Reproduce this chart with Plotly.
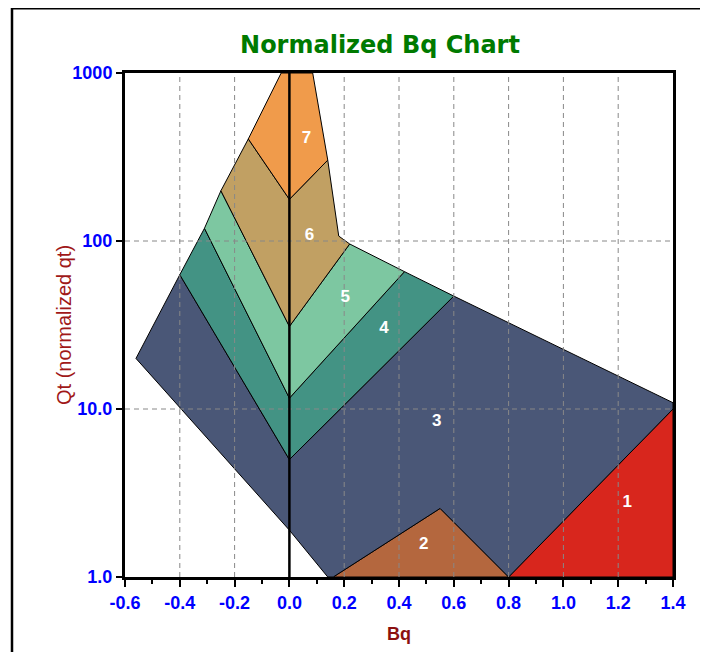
import plotly.graph_objects as go

# soil behaviour zones (Bq, Qt)
zone1_x = [0.80, 1.40, 1.40]
zone1_y = [1.0, 10.0, 1.0]

zone2_x = [0.16, 0.55, 0.80]
zone2_y = [1.0, 2.56, 1.0]

zone3_x = [-0.56, -0.40, 0.00, 0.60, 1.40, 1.40, 0.80, 0.55, 0.16, 0.14, 0.00]
zone3_y = [20.0, 63.0, 5.0, 47.0, 10.9, 10.0, 1.0, 2.56, 1.0, 1.0, 1.9]

zone4_x = [-0.40, -0.31, 0.00, 0.42, 0.60, 0.00]
zone4_y = [63.0, 119.0, 11.6, 65.7, 47.0, 5.0]

zone5_x = [-0.31, -0.25, 0.00, 0.22, 0.42, 0.00]
zone5_y = [119.0, 199.0, 31.0, 96.0, 65.7, 11.6]

zone6_x = [-0.25, -0.15, 0.00, 0.14, 0.18, 0.22, 0.00]
zone6_y = [199.0, 405.0, 177.0, 303.0, 107.0, 96.0, 31.0]

zone7_x = [-0.15, -0.03, 0.085, 0.14, 0.00]
zone7_y = [405.0, 1000.0, 1000.0, 303.0, 177.0]

zone_colors = ["#D8261D", "#B4673E", "#4A5777", "#439384", "#7DC7A1", "#C1A063", "#F09B4B"]

label_text = ["1", "2", "3", "4", "5", "6", "7"]
label_x = [1.233, 0.49, 0.538, 0.345, 0.204, 0.073, 0.062]
label_y = [2.76, 1.55, 8.4, 30.0, 46.0, 107.0, 405.0]

x_ticks = [-0.6, -0.4, -0.2, 0.0, 0.2, 0.4, 0.6, 0.8, 1.0, 1.2, 1.4]
x_ticktext = ["-0.6", "-0.4", "-0.2", "0.0", "0.2", "0.4", "0.6", "0.8", "1.0", "1.2", "1.4"]
y_ticks = [1, 10, 100, 1000]
y_ticktext = ["1.0", "10.0", "100", "1000"]

zones = [
    (zone1_x, zone1_y), (zone2_x, zone2_y), (zone3_x, zone3_y), (zone4_x, zone4_y),
    (zone5_x, zone5_y), (zone6_x, zone6_y), (zone7_x, zone7_y),
]

fig = go.Figure()

# filled zones
for (zx, zy), col in zip(zones, zone_colors):
    fig.add_trace(go.Scatter(x=zx + [zx[0]], y=zy + [zy[0]], fill="toself", fillcolor=col,
                             mode="lines", line=dict(color="black", width=1),
                             hoverinfo="skip", showlegend=False))

# dashed grid drawn over the fills
gx, gy = [], []
for v in x_ticks[1:-1]:
    gx += [v, v, None]
    gy += [1, 1000, None]
for v in y_ticks[1:-1]:
    gx += [x_ticks[0], x_ticks[-1], None]
    gy += [v, v, None]
fig.add_trace(go.Scatter(x=gx, y=gy, mode="lines", line=dict(color="#888888", width=1, dash="5px,4px"),
                         hoverinfo="skip", showlegend=False))

# Bq = 0 line
fig.add_trace(go.Scatter(x=[0, 0], y=[1, 1000], mode="lines", line=dict(color="black", width=2.5),
                         hoverinfo="skip", showlegend=False))

# zone numbers
fig.add_trace(go.Scatter(x=label_x, y=label_y, mode="text", text=label_text,
                         textfont=dict(family="Liberation Sans, Arial", size=17, color="white", weight="bold"),
                         hoverinfo="skip", showlegend=False))

axis_font = dict(family="Liberation Sans, Arial", size=18, color="#0000FF", weight="bold")

fig.update_xaxes(range=[-0.6, 1.4], tickmode="array", tickvals=x_ticks, ticktext=x_ticktext,
                 showgrid=False, zeroline=False, showline=True, linecolor="black", linewidth=3,
                 mirror=True, ticks="outside", ticklen=7, tickwidth=2, tickcolor="black",
                 minor=dict(dtick=0.1, tick0=-0.6, ticks="outside", ticklen=4, tickcolor="black",
                            tickwidth=1.5, showgrid=False),
                 tickfont=axis_font)
fig.update_yaxes(type="log", range=[0, 3], tickmode="array", tickvals=y_ticks, ticktext=y_ticktext,
                 showgrid=False, zeroline=False, showline=True, linecolor="black", linewidth=3,
                 mirror=True, ticks="outside", ticklen=6, tickwidth=2, tickcolor="black",
                 tickfont=axis_font)

# window-like frame (left and top edges only)
fig.add_shape(type="line", xref="paper", yref="paper", x0=-0.2062, x1=-0.2062, y0=1.13, y1=-0.2,
              line=dict(color="black", width=2.5))
fig.add_shape(type="line", xref="paper", yref="paper", x0=-0.2062, x1=1.07, y0=1.128, y1=1.128,
              line=dict(color="black", width=2))

fig.add_annotation(text="Qt (normalized qt)", xref="paper", yref="paper", x=-0.1113, y=0.5,
                   xanchor="center", yanchor="middle", textangle=-90, showarrow=False,
                   font=dict(family="Liberation Sans, Arial", size=20, color="#A01818"))
fig.add_annotation(text="<b>Bq</b>", xref="paper", yref="paper", x=0.5, y=-0.113,
                   xanchor="center", yanchor="middle", showarrow=False,
                   font=dict(family="Liberation Sans, Arial", size=18, color="#8B1010"))

# the page adds an 8px body margin, so plot area offsets are 8px less than measured
fig.update_layout(
    width=708, height=652,
    margin=dict(l=117, r=43, t=65, b=83),
    paper_bgcolor="white", plot_bgcolor="white",
    title=dict(text="<b>Normalized Bq Chart</b>", x=(380 - 8) / 708, y=1 - (45 - 8) / 652,
               xref="container", yref="container", xanchor="center", yanchor="middle",
               font=dict(family="DejaVu Sans", size=24, color="#007A00")),
)

fig.write_html("out.html")
